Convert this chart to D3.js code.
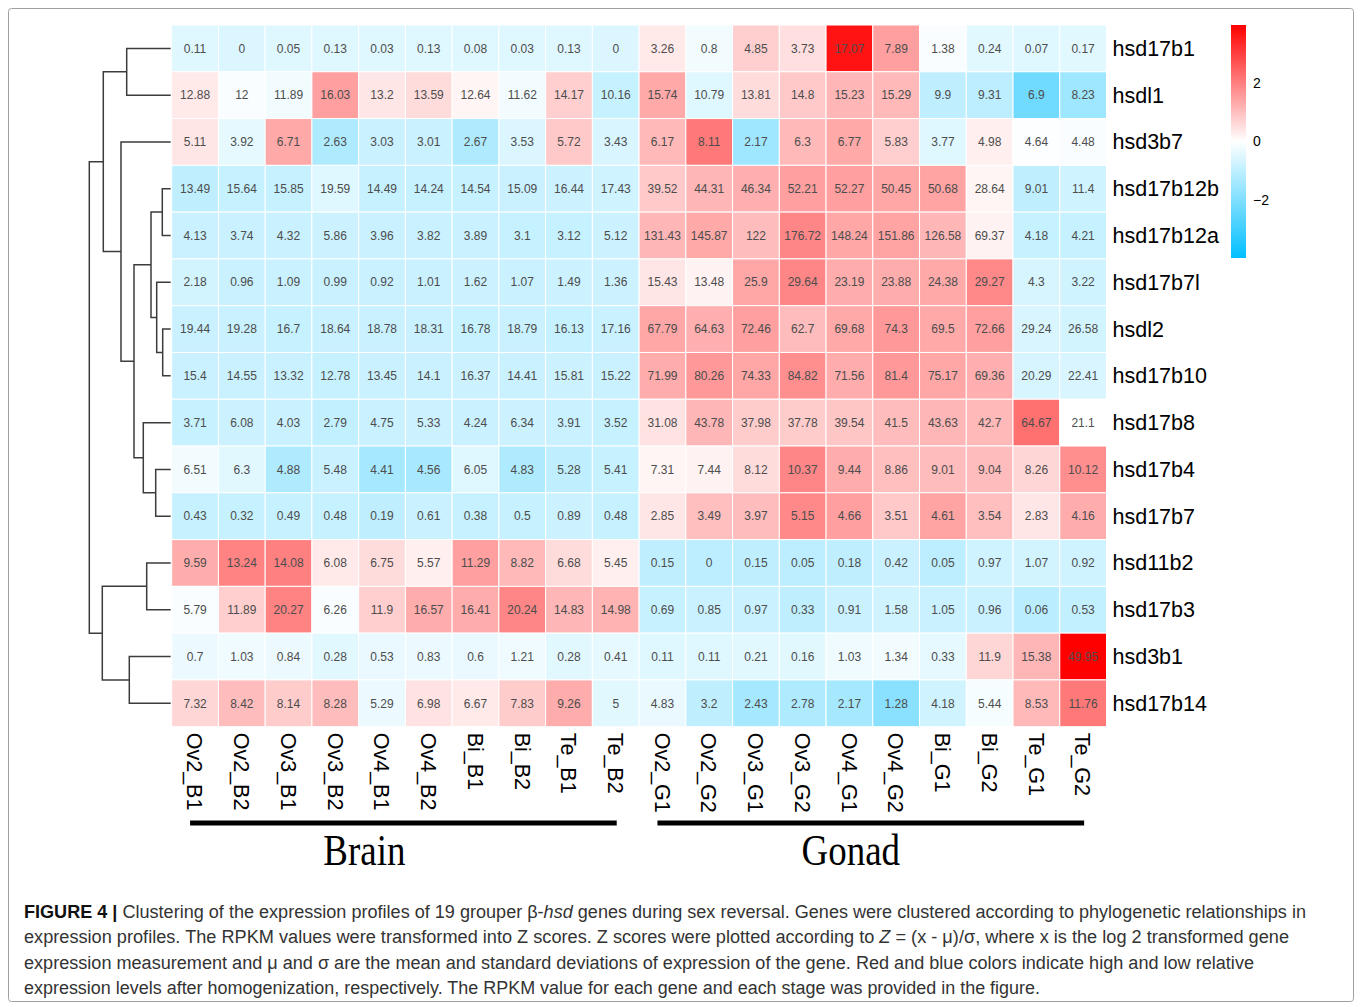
<html>

<head>
  <script src="https://d3js.org/d3.v7.min.js"></script>
  <style>
    body { margin: 0; background: #fff; }
    text { font-family: "Liberation Sans", Arial, sans-serif; }
  </style>
</head>

<body>
  <svg id="heatmap" width="1360" height="1007"></svg>

  <script>
    // samples (columns) and genes (rows, in dendrogram leaf order)
    const columns = ["Ov2_B1", "Ov2_B2", "Ov3_B1", "Ov3_B2", "Ov4_B1", "Ov4_B2", "Bi_B1", "Bi_B2", "Te_B1", "Te_B2",
      "Ov2_G1", "Ov2_G2", "Ov3_G1", "Ov3_G2", "Ov4_G1", "Ov4_G2", "Bi_G1", "Bi_G2", "Te_G1", "Te_G2"];
    const genes = ["hsd17b1", "hsdl1", "hsd3b7", "hsd17b12b", "hsd17b12a", "hsd17b7l", "hsdl2", "hsd17b10",
      "hsd17b8", "hsd17b4", "hsd17b7", "hsd11b2", "hsd17b3", "hsd3b1", "hsd17b14"];

    // RPKM values printed in the cells
    const rpkm = [
      [0.11, 0, 0.05, 0.13, 0.03, 0.13, 0.08, 0.03, 0.13, 0, 3.26, 0.8, 4.85, 3.73, 17.07, 7.89, 1.38, 0.24, 0.07, 0.17],
      [12.88, 12, 11.89, 16.03, 13.2, 13.59, 12.64, 11.62, 14.17, 10.16, 15.74, 10.79, 13.81, 14.8, 15.23, 15.29, 9.9, 9.31, 6.9, 8.23],
      [5.11, 3.92, 6.71, 2.63, 3.03, 3.01, 2.67, 3.53, 5.72, 3.43, 6.17, 8.11, 2.17, 6.3, 6.77, 5.83, 3.77, 4.98, 4.64, 4.48],
      [13.49, 15.64, 15.85, 19.59, 14.49, 14.24, 14.54, 15.09, 16.44, 17.43, 39.52, 44.31, 46.34, 52.21, 52.27, 50.45, 50.68, 28.64, 9.01, 11.4],
      [4.13, 3.74, 4.32, 5.86, 3.96, 3.82, 3.89, 3.1, 3.12, 5.12, 131.43, 145.87, 122, 176.72, 148.24, 151.86, 126.58, 69.37, 4.18, 4.21],
      [2.18, 0.96, 1.09, 0.99, 0.92, 1.01, 1.62, 1.07, 1.49, 1.36, 15.43, 13.48, 25.9, 29.64, 23.19, 23.88, 24.38, 29.27, 4.3, 3.22],
      [19.44, 19.28, 16.7, 18.64, 18.78, 18.31, 16.78, 18.79, 16.13, 17.16, 67.79, 64.63, 72.46, 62.7, 69.68, 74.3, 69.5, 72.66, 29.24, 26.58],
      [15.4, 14.55, 13.32, 12.78, 13.45, 14.1, 16.37, 14.41, 15.81, 15.22, 71.99, 80.26, 74.33, 84.82, 71.56, 81.4, 75.17, 69.36, 20.29, 22.41],
      [3.71, 6.08, 4.03, 2.79, 4.75, 5.33, 4.24, 6.34, 3.91, 3.52, 31.08, 43.78, 37.98, 37.78, 39.54, 41.5, 43.63, 42.7, 64.67, 21.1],
      [6.51, 6.3, 4.88, 5.48, 4.41, 4.56, 6.05, 4.83, 5.28, 5.41, 7.31, 7.44, 8.12, 10.37, 9.44, 8.86, 9.01, 9.04, 8.26, 10.12],
      [0.43, 0.32, 0.49, 0.48, 0.19, 0.61, 0.38, 0.5, 0.89, 0.48, 2.85, 3.49, 3.97, 5.15, 4.66, 3.51, 4.61, 3.54, 2.83, 4.16],
      [9.59, 13.24, 14.08, 6.08, 6.75, 5.57, 11.29, 8.82, 6.68, 5.45, 0.15, 0, 0.15, 0.05, 0.18, 0.42, 0.05, 0.97, 1.07, 0.92],
      [5.79, 11.89, 20.27, 6.26, 11.9, 16.57, 16.41, 20.24, 14.83, 14.98, 0.69, 0.85, 0.97, 0.33, 0.91, 1.58, 1.05, 0.96, 0.06, 0.53],
      [0.7, 1.03, 0.84, 0.28, 0.53, 0.83, 0.6, 1.21, 0.28, 0.41, 0.11, 0.11, 0.21, 0.16, 1.03, 1.34, 0.33, 11.9, 15.38, 49.95],
      [7.32, 8.42, 8.14, 8.28, 5.29, 6.98, 6.67, 7.83, 9.26, 5, 4.83, 3.2, 2.43, 2.78, 2.17, 1.28, 4.18, 5.44, 8.53, 11.76]
    ];

    // Z scores (cell colour)
    const zscores = [
      [-0.5, -0.55, -0.5, -0.5, -0.5, -0.5, -0.5, -0.5, -0.5, -0.55, 0.35, -0.2, 0.75, 0.5, 3.7, 1.5, -0.1, -0.45, -0.5, -0.45],
      [0.35, -0.1, -0.2, 1.5, 0.4, 0.55, 0.15, -0.2, 0.75, -0.9, 1.35, -0.5, 0.55, 0.85, 1.15, 1.1, -1.0, -1.05, -2.25, -1.5],
      [0.4, -0.4, 1.35, -1.25, -0.85, -0.85, -1.25, -0.55, 0.85, -0.6, 1.1, 2.1, -1.5, 1.1, 1.35, 0.75, -0.5, 0.25, -0.05, -0.1],
      [-1.0, -0.9, -0.9, -0.5, -0.9, -0.9, -0.9, -0.85, -0.8, -0.75, 0.85, 1.15, 1.25, 1.5, 1.5, 1.4, 1.45, 0.15, -1.0, -0.75],
      [-0.85, -0.85, -0.85, -0.8, -0.85, -0.85, -0.85, -0.9, -0.9, -0.8, 1.15, 1.35, 1.05, 1.9, 1.4, 1.45, 1.15, 0.2, -0.9, -0.9],
      [-0.7, -0.85, -0.85, -0.85, -0.85, -0.85, -0.8, -0.85, -0.8, -0.8, 0.4, 0.2, 1.4, 1.9, 1.3, 1.3, 1.35, 1.85, -0.65, -0.75],
      [-0.85, -0.85, -0.9, -0.85, -0.85, -0.85, -0.9, -0.85, -0.9, -0.85, 1.4, 1.25, 1.5, 1.05, 1.35, 1.6, 1.35, 1.5, -0.6, -0.7],
      [-0.85, -0.85, -0.85, -0.9, -0.85, -0.85, -0.8, -0.85, -0.8, -0.85, 1.3, 1.6, 1.4, 1.75, 1.3, 1.6, 1.4, 1.25, -0.65, -0.6],
      [-0.9, -0.8, -0.85, -0.95, -0.85, -0.8, -0.85, -0.8, -0.85, -0.9, 0.45, 1.15, 0.8, 0.8, 0.9, 1.05, 1.15, 1.1, 2.25, 0.0],
      [-0.2, -0.45, -1.25, -0.85, -1.4, -1.35, -0.5, -1.25, -1.0, -0.9, 0.15, 0.2, 0.55, 1.9, 1.3, 1.0, 1.05, 1.05, 0.65, 1.75],
      [-0.9, -0.9, -0.9, -0.9, -1.0, -0.85, -0.9, -0.9, -0.8, -0.9, 0.4, 1.0, 1.05, 1.85, 1.5, 0.85, 1.45, 1.0, 0.4, 1.3],
      [1.3, 1.95, 2.0, 0.35, 0.55, 0.25, 1.5, 1.1, 0.55, 0.25, -1.0, -1.05, -1.0, -1.05, -1.0, -0.85, -1.05, -0.75, -0.7, -0.75],
      [-0.1, 0.75, 1.95, -0.1, 0.75, 1.3, 1.3, 1.9, 1.15, 1.2, -0.9, -0.85, -0.85, -1.0, -0.85, -0.75, -0.85, -0.85, -1.1, -0.95],
      [-0.3, -0.25, -0.3, -0.45, -0.35, -0.3, -0.35, -0.25, -0.45, -0.4, -0.5, -0.5, -0.45, -0.45, -0.25, -0.2, -0.4, 0.65, 1.15, 4.0],
      [0.65, 1.05, 0.8, 1.05, -0.3, 0.45, 0.35, 0.8, 1.3, -0.45, -0.35, -1.0, -1.4, -1.25, -1.4, -1.85, -0.75, -0.15, 1.1, 2.1]
    ];

    // row dendrogram: merge heights (arbitrary distance units)
    const tree = {
      h: 81.4, children: [
        { h: 67.4, children: [
          { h: 44, children: ["hsd17b1", "hsdl1"] },
          { h: 49.7, children: ["hsd3b7",
            { h: 36.7, children: [
              { h: 19.7, children: [
                { h: 8.4, children: ["hsd17b12b", "hsd17b12a"] },
                { h: 14, children: ["hsd17b7l", { h: 8, children: ["hsdl2", "hsd17b10"] }] }] },
              { h: 27.4, children: ["hsd17b8", { h: 15, children: ["hsd17b4", "hsd17b7"] }] }] }] }] },
        { h: 68.4, children: [
          { h: 24, children: ["hsd11b2", "hsd17b3"] },
          { h: 41.4, children: ["hsd3b1", "hsd17b14"] }] }
      ]
    };

    const legendTicks = [2, 0, -2];
    const zDomain = [-4, 4];

    const groups = [
      { name: "Brain", from: "Ov2_B1", to: "Te_B2" },
      { name: "Gonad", from: "Ov2_G1", to: "Te_G2" }
    ];

    const captionLines = [
      [["FIGURE 4 | ", "b"], ["Clustering of the expression profiles of 19 grouper \u03b2-", ""], ["hsd", "i"], [" genes during sex reversal. Genes were clustered according to phylogenetic relationships in", ""]],
      [["expression profiles. The RPKM values were transformed into Z scores. Z scores were plotted according to ", ""], ["Z", "i"], [" = (x - \u03bc)/\u03c3, where x is the log 2 transformed gene", ""]],
      [["expression measurement and \u03bc and \u03c3 are the mean and standard deviations of expression of the gene. Red and blue colors indicate high and low relative", ""]],
      [["expression levels after homogenization, respectively. The RPKM value for each gene and each stage was provided in the figure.", ""]]
    ];
    const captionWidths = [1282, 1265, 1230, 1016];

    const svg = d3.select('svg#heatmap');

    // outer frame
    svg.append("rect")
      .attr("x", 8.5).attr("y", 8.5)
      .attr("width", 1345).attr("height", 993)
      .attr("rx", 3)
      .style("fill", "none")
      .style("stroke", "#a0a0a0");

    const x = d3.scaleBand().domain(columns).range([171.7, 1106.5]);
    const y = d3.scaleBand().domain(genes).range([25, 726.7]);
    const color = d3.scaleLinear().domain([zDomain[0], 0, zDomain[1]])
      .range(["#00bfff", "#ffffff", "#ff0000"]);

    const cells = [];
    genes.forEach((g, i) => columns.forEach((c, j) => {
      cells.push({ gene: g, col: c, value: rpkm[i][j], z: zscores[i][j] });
    }));

    const cellG = svg.append("g").attr("id", "cells");
    cellG.selectAll("rect")
      .data(cells)
      .join("rect")
      .attr("x", d => x(d.col))
      .attr("y", d => y(d.gene))
      .attr("width", x.bandwidth())
      .attr("height", y.bandwidth())
      .style("fill", d => color(d.z))
      .style("stroke", "#ffffff")
      .style("stroke-width", 1);

    cellG.selectAll("text")
      .data(cells)
      .join("text")
      .attr("x", d => x(d.col) + x.bandwidth() / 2)
      .attr("y", d => y(d.gene) + y.bandwidth() / 2)
      .attr("dy", "0.35em")
      .attr("text-anchor", "middle")
      .style("font-size", "12px")
      .style("fill", "#4d4d4d")
      .text(d => String(d.value));

    // row labels
    svg.append("g").selectAll("text")
      .data(genes)
      .join("text")
      .attr("x", x.range()[1] + 6)
      .attr("y", d => y(d) + y.bandwidth() / 2)
      .attr("dy", "0.35em")
      .style("font-size", "21.5px")
      .style("fill", "#000")
      .text(d => d);

    // column labels, rotated to read downwards
    svg.append("g").selectAll("text")
      .data(columns)
      .join("text")
      .attr("transform", d => `translate(${x(d) + x.bandwidth() / 2},${y.range()[1] + 6}) rotate(90)`)
      .attr("dy", "0.36em")
      .style("font-size", "21.5px")
      .style("fill", "#000")
      .text(d => d);

    // dendrogram
    const root = d3.hierarchy(tree, d => d.children ? d.children.map(c => typeof c === "string" ? { name: c, h: 0 } : c) : null);
    root.eachAfter(n => {
      n.py = n.children ? d3.mean(n.children, c => c.py) : y(n.data.name) + y.bandwidth() / 2;
    });
    const dx = d3.scaleLinear().domain([0, root.data.h]).range([170.7, 89.3]);

    svg.append("g").attr("id", "dendrogram")
      .selectAll("path")
      .data(root.descendants().filter(n => n.children))
      .join("path")
      .attr("d", n => {
        const [a, b] = n.children;
        return `M${dx(a.data.h)},${a.py}H${dx(n.data.h)}V${b.py}H${dx(b.data.h)}`;
      })
      .style("fill", "none")
      .style("stroke", "#3c3c3c")
      .style("stroke-width", 1.5);

    // colour legend
    const ly = d3.scaleLinear().domain(zDomain).range([258, 25]);
    const grad = svg.append("defs").append("linearGradient")
      .attr("id", "zGradient")
      .attr("x1", "0%").attr("y1", "100%")
      .attr("x2", "0%").attr("y2", "0%");
    d3.range(zDomain[0], zDomain[1] + 0.01, 0.5).forEach(v => {
      grad.append("stop")
        .attr("offset", `${(v - zDomain[0]) / (zDomain[1] - zDomain[0]) * 100}%`)
        .attr("stop-color", color(v));
    });
    svg.append("rect")
      .attr("x", 1231).attr("y", ly(zDomain[1]))
      .attr("width", 15).attr("height", ly(zDomain[0]) - ly(zDomain[1]))
      .style("fill", "url(#zGradient)");
    svg.append("g").selectAll("text")
      .data(legendTicks)
      .join("text")
      .attr("x", 1253)
      .attr("y", d => ly(d))
      .attr("dy", "0.35em")
      .style("font-size", "14px")
      .style("fill", "#000")
      .text(d => d < 0 ? "\u2212" + Math.abs(d) : d);

    // Brain / Gonad brackets
    const labelShift = { Brain: -39, Gonad: -20 };
    const grp = svg.append("g").attr("id", "groups");
    groups.forEach(g => {
      const x1 = x(g.from) + x.bandwidth() / 2 - 5;
      const x2 = x(g.to) + x.bandwidth() / 2 + 1;
      grp.append("line")
        .attr("x1", x1).attr("x2", x2)
        .attr("y1", 823).attr("y2", 823)
        .style("stroke", "#000")
        .style("stroke-width", 5);
      const cx = (x1 + x2) / 2 + labelShift[g.name];
      grp.append("text")
        .attr("transform", `translate(${cx},865) scale(0.84,1)`)
        .attr("text-anchor", "middle")
        .style("font-family", "'Liberation Serif', 'Times New Roman', serif")
        .style("font-size", "44px")
        .style("fill", "#000")
        .text(g.name);
    });

    // caption
    const cap = svg.append("g").attr("id", "caption");
    captionLines.forEach((line, i) => {
      const t = cap.append("text")
        .attr("x", 24)
        .attr("y", 918 + i * 25.3)
        .attr("textLength", captionWidths[i])
        .attr("lengthAdjust", "spacingAndGlyphs")
        .style("font-size", "18px")
        .style("fill", "#333");
      line.forEach(([s, st]) => {
        t.append("tspan")
          .style("font-weight", st === "b" ? "bold" : null)
          .style("font-style", st === "i" ? "italic" : null)
          .style("fill", st === "b" ? "#111" : null)
          .text(s);
      });
    });
  </script>
</body>

</html>
